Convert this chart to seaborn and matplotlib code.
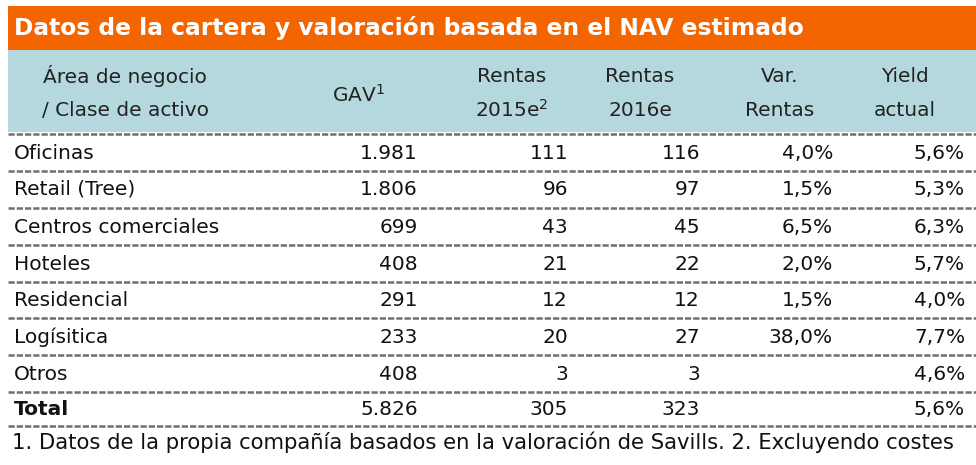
import seaborn as sns
import matplotlib.pyplot as plt
from matplotlib.patches import Rectangle

sns.set_theme(style="white")

title = "Datos de la cartera y valoración basada en el NAV estimado"
headers = [["Área de negocio", "/ Clase de activo"], ["GAV$^{1}$"], ["Rentas", "2015e$^{2}$"],
           ["Rentas", "2016e"], ["Var.", "Rentas"], ["Yield", "actual"]]
categorias = ["Oficinas", "Retail (Tree)", "Centros comerciales", "Hoteles",
              "Residencial", "Logísitica", "Otros", "Total"]
gav = ["1.981", "1.806", "699", "408", "291", "233", "408", "5.826"]
rentas_2015 = ["111", "96", "43", "21", "12", "20", "3", "305"]
rentas_2016 = ["116", "97", "45", "22", "12", "27", "3", "323"]
var_rentas = ["4,0%", "1,5%", "6,5%", "2,0%", "1,5%", "38,0%", "", ""]
yield_actual = ["5,6%", "5,3%", "6,3%", "5,7%", "4,0%", "7,7%", "4,6%", "5,6%"]
nota = "1. Datos de la propia compañía basados en la valoración de Savills. 2. Excluyendo costes"

fig = plt.figure(figsize=(9.76, 4.65), dpi=100)
ax = fig.add_axes([0, 0, 1, 1])
ax.set_xlim(0, 976)
ax.set_ylim(465, 0)
ax.axis("off")

font = "DejaVu Sans"
ax.add_patch(Rectangle((8, 6), 968, 44, color="#f26500", lw=0))
ax.text(14, 28, title, color="white", fontsize=16.8, fontweight="bold", va="center", family=font)
ax.add_patch(Rectangle((8, 50), 968, 82, color="#b5d8df", lw=0))

head_x = [125, 358, 512, 640, 780, 905]
for x, h in zip(head_x, headers):
    if len(h) == 2:
        ax.text(x, 76, h[0], ha="center", va="center", fontsize=14.5, family=font, color="#222222")
        ax.text(x, 110, h[1], ha="center", va="center", fontsize=14.5, family=font, color="#222222")
    else:
        ax.text(x, 95, h[0], ha="center", va="center", fontsize=14.5, family=font, color="#222222")

cols = [gav, rentas_2015, rentas_2016, var_rentas, yield_actual]
right_x = [418, 568, 700, 833, 965]
row_y = [153, 189, 227, 264, 300, 337, 374, 409]
sep_y = [134, 171, 208, 245, 282, 318, 355, 392, 426]
for y in sep_y:
    sns.lineplot(x=[8, 976], y=[y, y], ax=ax, color="#6e6e6e", lw=1.8, linestyle=(0, (2.5, 0.8)))

for i, (cat, y) in enumerate(zip(categorias, row_y)):
    w = "bold" if cat == "Total" else "normal"
    ax.text(14, y, cat, va="center", fontsize=14.5, family=font, color="#111111", fontweight=w)
    for c, x in zip(cols, right_x):
        ax.text(x, y, c[i], ha="right", va="center", fontsize=14.5, family=font, color="#111111")

ax.text(12, 442, nota, va="center", fontsize=15.2, family=font, color="#111111")

fig.savefig("out.png", dpi=100)
